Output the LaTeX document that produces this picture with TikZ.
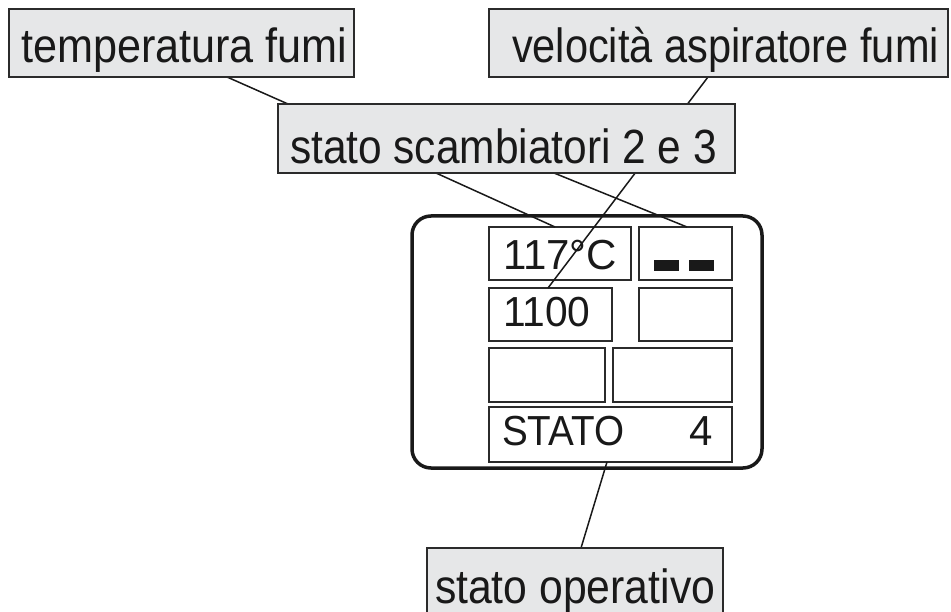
\documentclass[tikz,border=0pt]{standalone}
\usepackage{fontspec}
\setmainfont{Liberation Sans}
\definecolor{lblgray}{HTML}{E6E7E8}
\definecolor{edge}{HTML}{2B2B2B}
\begin{document}
\begin{tikzpicture}[x=1pt,y=-1pt,
  lbl/.style={draw=edge, fill=lblgray, line width=1.3pt, inner sep=0pt, outer sep=0pt},
  cell/.style={draw=edge, fill=white, line width=1.2pt, inner sep=0pt, outer sep=0pt},
  txt/.style={inner sep=0pt, outer sep=0pt, anchor=base west, text=black!90, font=\fontsize{42}{48}\selectfont},
  ltxt/.style={inner sep=0pt, outer sep=0pt, anchor=base west, text=black!90, font=\fontsize{48}{56}\selectfont},
  lead/.style={draw=black!90, line width=1.5pt},
  frame/.style={draw=black!90, line width=3.5pt, rounded corners=19pt}]
\useasboundingbox (0,0) rectangle (951,612);
% display frame
\node[frame, minimum width=350pt, minimum height=252pt, inner sep=0pt] (disp) at (587,342) {};
% cells
\node[cell, minimum width=142pt, minimum height=53pt] (c11) at (560,253.5) {};
\node[cell, minimum width=93pt, minimum height=53pt] (c12) at (685.5,253.5) {};
\node[cell, minimum width=123pt, minimum height=53pt] (c21) at (550.5,314.5) {};
\node[cell, minimum width=93pt, minimum height=53pt] (c22) at (685.5,314.5) {};
\node[cell, minimum width=116pt, minimum height=54pt] (c31) at (547,375) {};
\node[cell, minimum width=119pt, minimum height=54pt] (c32) at (672.5,375) {};
\node[cell, minimum width=243pt, minimum height=55pt] (c4) at (610.5,434.5) {};
% cell texts
\node[txt] (t117) at (503,270) {117°C};
\node[txt] (t1100) at (503,327) {\scalebox{0.97}[1]{1100}};
\node[txt] (tstato) at (502,445) {\scalebox{0.92}[1]{STATO}};
\node[txt] (t4) at (689,445) {4};
\fill[black!90] (654,260) rectangle (679,271);
\fill[black!90] (689,260) rectangle (714,271);
% leader end points
\coordinate (pTf) at (227,77);
\coordinate (pSsTL) at (288,104);
\coordinate (pVel) at (708,77);
\coordinate (p1100) at (548,288);
\coordinate (pSsL) at (436,173);
\coordinate (p117) at (555,227);
\coordinate (pSsR) at (554,173);
\coordinate (pDash) at (687,227);
\coordinate (pStato) at (607,462);
\coordinate (pOp) at (581,548);
% leaders
\draw[lead] (pTf) -- (pSsTL);
\draw[lead] (pVel) -- (p1100);
\draw[lead] (pSsL) -- (p117);
\draw[lead] (pSsR) -- (pDash);
\draw[lead] (pStato) -- (pOp);
% label boxes
\node[lbl, minimum width=345pt, minimum height=68pt] (tf) at (181.5,43) {};
\node[ltxt] (tft) at (21,63) {\scalebox{0.90}[1]{temperatura fumi}};
\node[lbl, minimum width=459pt, minimum height=68pt] (vel) at (718.5,43) {};
\node[ltxt] (velt) at (512,63) {\scalebox{0.865}[1]{velocità aspiratore fumi}};
\node[lbl, minimum width=457pt, minimum height=69pt] (ss) at (506.5,138.5) {};
\node[ltxt] (sst) at (290,164) {\scalebox{0.884}[1]{stato scambiatori 2 e 3}};
\node[lbl, minimum width=296pt, minimum height=72pt] (op) at (575,584) {};
\node[ltxt] (opt) at (435,603) {\scalebox{0.89}[1]{stato operativo}};
\end{tikzpicture}
\end{document}
